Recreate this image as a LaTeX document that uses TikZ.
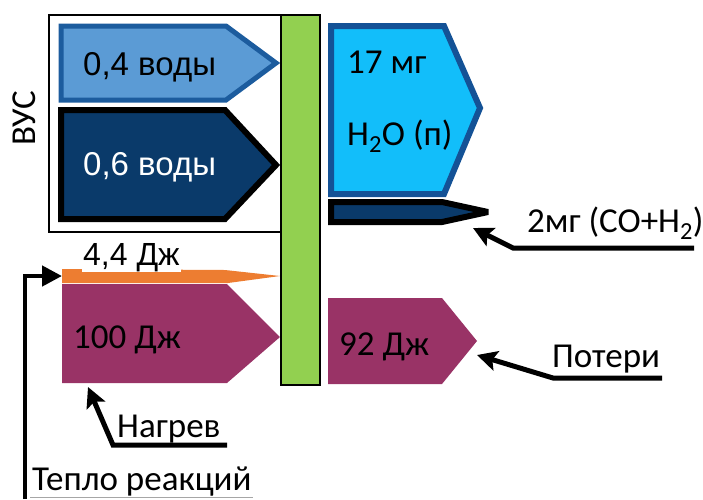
\documentclass[tikz,border=0pt]{standalone}
\usepackage{fontspec}
\setmainfont{Carlito}
\newfontfamily\arl{Liberation Sans}
\usetikzlibrary{arrows.meta}
\definecolor{lblue}{RGB}{91,155,213}
\definecolor{lbord}{RGB}{28,92,158}
\definecolor{navy}{RGB}{10,58,106}
\definecolor{cyanf}{RGB}{18,190,250}
\definecolor{cbord}{RGB}{20,82,150}
\definecolor{orng}{RGB}{237,125,49}
\definecolor{purp}{RGB}{153,51,102}
\definecolor{grn}{RGB}{146,208,80}
\tikzset{
  lbl/.style={inner sep=0pt, anchor=base west, font=\fontsize{35}{40}\selectfont},
  albl/.style={inner sep=0pt, anchor=base west, font=\arl\fontsize{33}{38}\selectfont},
  callout/.style={line width=5pt, black, -{Stealth[length=20pt,width=20pt,inset=4pt]}},
}
\begin{document}
\begin{tikzpicture}[x=1pt,y=-1pt]
\useasboundingbox (0,0) rectangle (703,499);
% outer box
\draw[line width=2pt] (49,15) rectangle (281,232);
% arrows left
\filldraw[fill=lblue, draw=lbord, line width=5pt, line join=miter] (61,26) -- (226,26) -- (276,63) -- (226,100) -- (61,100) -- cycle;
\filldraw[fill=navy, draw=black, line width=6pt, line join=miter] (61,110) -- (225,110) -- (276,165) -- (225,219) -- (61,219) -- cycle;
\fill[orng] (62,269) -- (225,270) -- (280,276) -- (228,283) -- (62,283) -- cycle;
\fill[purp] (62,284) -- (227,284) -- (280,337) -- (227,383) -- (62,383) -- cycle;
% right arrows
\filldraw[fill=cyanf, draw=cbord, line width=6pt, line join=miter] (331,26) -- (444,26) -- (480,108) -- (444,194) -- (331,194) -- cycle;
\filldraw[fill=navy, draw=black, line width=6pt, line join=miter, miter limit=3] (331,202) -- (442,202) -- (488,212) -- (442,222) -- (331,222) -- cycle;
\fill[purp] (328,298) -- (442,298) -- (477,341) -- (442,384) -- (328,384) -- cycle;
% green bar
\filldraw[fill=grn, draw=black, line width=2pt] (281,15) rectangle (320,385);
% labels
\node[albl] (w04) at (83,75) {0,4 воды};
\node[albl, text=white] (w06) at (83,175) {0,6 воды};
\node[lbl, rotate=90] (vus) at (35,146) {ВУС};
\node[lbl] (mg17) at (347,73) {17 мг};
\node[lbl] (h2o) at (347,145) {H\textsubscript{2}O (п)};
\node[lbl] (mg2) at (527,232) {2мг (CO+H\textsubscript{2})};
\node[albl, fill=white, inner sep=1pt, font=\arl\fontsize{32}{36}\selectfont] (j44) at (82,265) {4,4 Дж};
\node[lbl] (j100) at (73,348) {100 Дж};
\node[lbl] (j92) at (339,355) {92 Дж};
\node[lbl] (pot) at (552,367) {Потери};
\node[lbl] (nag) at (117,437) {Нагрев};
\node[lbl] (tep) at (32,490) {Тепло реакций};
% callouts
\coordinate (tMg) at (473,228);
\coordinate (tPot) at (477,355);
\coordinate (tNag) at (88,387);
\coordinate (tTep) at (62,276);
\coordinate (sMg) at (694,248);
\coordinate (kMg) at (513,248);
\coordinate (sPot) at (662,378);
\coordinate (kPot) at (553,378);
\coordinate (sNag) at (227,445);
\coordinate (kNag) at (113,445);
\coordinate (sTep) at (25,499);
\coordinate (kTep) at (25,276);
\draw[callout] (sMg) -- (kMg) -- (tMg);
\draw[callout] (sPot) -- (kPot) -- (tPot);
\draw[callout] (sNag) -- (kNag) -- (tNag);
\draw[callout, line width=4.5pt, -{Triangle[length=20pt,width=20pt]}] (sTep) -- (kTep) -- (tTep);
\coordinate (uL) at (30,497.5);
\coordinate (uR) at (253,497.5);
\draw[gray!70, line width=1pt] (uL) -- (uR);
\end{tikzpicture}
\end{document}
